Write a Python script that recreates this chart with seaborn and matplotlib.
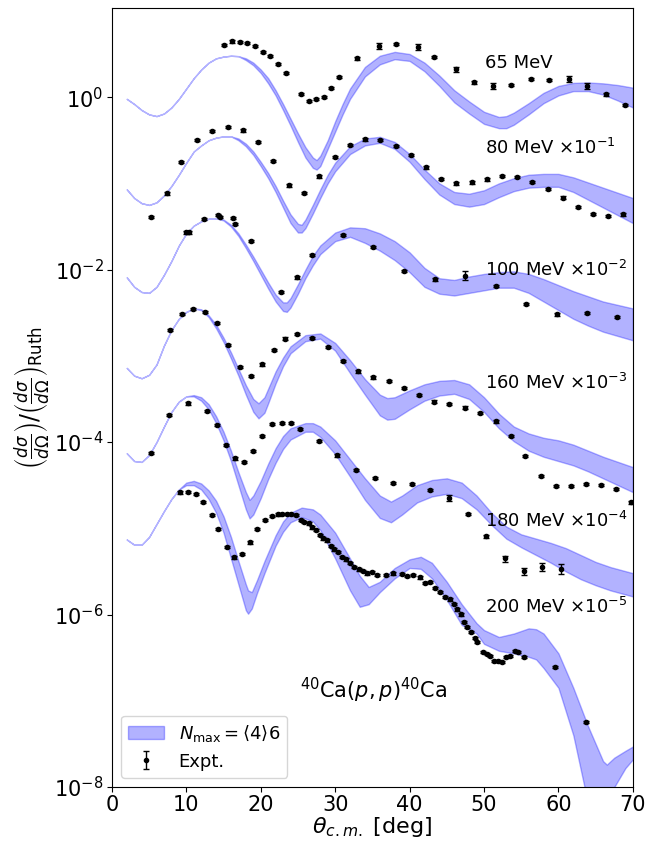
import numpy as np
import pandas as pd
import matplotlib
matplotlib.use("Agg")
import matplotlib.pyplot as plt
from matplotlib.ticker import NullLocator
import seaborn as sns

# theory bands, values given as log10 of the (scaled) ratio
th_65 = [2, 3, 4, 5, 6, 7, 8, 9, 10, 11, 12, 13, 14, 15, 16, 17, 18, 19, 20, 21, 22, 23, 24, 25, 26, 27, 27.5,
         28, 29, 30, 31, 32, 34, 36, 38, 40, 42, 44, 46, 48, 50, 52, 53, 54, 56, 58, 60, 62, 64, 66, 68, 70]
hi_65 = [-0.02, -0.08, -0.15, -0.20, -0.22, -0.19, -0.12, -0.02, 0.10, 0.22, 0.32, 0.40, 0.45, 0.47, 0.48,
         0.475, 0.45, 0.40, 0.32, 0.22, 0.08, -0.08, -0.25, -0.42, -0.58, -0.70, -0.73, -0.68, -0.50, -0.28,
         -0.08, 0.10, 0.35, 0.48, 0.525, 0.50, 0.40, 0.25, 0.08, -0.05, -0.17, -0.23, -0.22, -0.18, -0.07,
         0.05, 0.13, 0.165, 0.17, 0.16, 0.14, 0.11]
lo_65 = [-0.02, -0.08, -0.15, -0.20, -0.22, -0.19, -0.12, -0.02, 0.10, 0.22, 0.32, 0.40, 0.45, 0.47, 0.48,
         0.475, 0.43, 0.37, 0.28, 0.16, 0.02, -0.15, -0.33, -0.52, -0.70, -0.82, -0.84, -0.80, -0.60, -0.40,
         -0.20, -0.02, 0.24, 0.38, 0.44, 0.42, 0.30, 0.13, -0.06, -0.19, -0.31, -0.36, -0.36, -0.32, -0.20,
         -0.07, 0.02, 0.07, 0.07, 0.03, -0.04, -0.12]

th_80 = [2, 3, 4, 5, 6, 7, 8, 9, 10, 11, 12, 13, 14, 15, 16, 17, 18, 19, 20, 21, 22, 23, 24, 25, 25.5,
         26, 27, 28, 29, 30, 32, 34, 36, 38, 40, 42, 44, 46, 48, 50, 52, 54, 56, 58, 60, 62, 64, 66, 68, 70]
hi_80 = [-1.07, -1.17, -1.23, -1.25, -1.22, -1.14, -1.03, -0.90, -0.76, -0.63, -0.56, -0.50, -0.47, -0.455,
         -0.455, -0.48, -0.54, -0.63, -0.75, -0.88, -1.03, -1.20, -1.36, -1.47, -1.48, -1.42, -1.25, -1.07,
         -0.90, -0.76, -0.57, -0.48, -0.46, -0.52, -0.66, -0.84, -1.00, -1.10, -1.12, -1.08, -1.00, -0.94,
         -0.90, -0.89, -0.89, -0.93, -0.99, -1.05, -1.11, -1.17]
lo_80 = [-1.07, -1.17, -1.23, -1.25, -1.22, -1.14, -1.03, -0.90, -0.76, -0.63, -0.56, -0.50, -0.47, -0.455,
         -0.455, -0.50, -0.57, -0.67, -0.80, -0.94, -1.10, -1.28, -1.46, -1.57, -1.57, -1.52, -1.35, -1.17,
         -1.00, -0.86, -0.66, -0.56, -0.53, -0.60, -0.75, -0.95, -1.13, -1.24, -1.27, -1.24, -1.16, -1.09,
         -1.05, -1.04, -1.04, -1.10, -1.19, -1.28, -1.37, -1.46]

th_100 = [2, 3, 4, 5, 6, 7, 8, 9, 10, 11, 12, 13, 14, 15, 16, 17, 18, 19, 20, 21, 22, 23, 23.5, 24, 25, 26,
          27, 28, 30, 32, 34, 36, 38, 40, 42, 44, 46, 48, 50, 52, 54, 56, 58, 60, 62, 64, 66, 68, 70]
hi_100 = [-2.09, -2.20, -2.26, -2.27, -2.20, -2.06, -1.90, -1.72, -1.58, -1.49, -1.44, -1.41, -1.405, -1.42,
          -1.48, -1.58, -1.71, -1.85, -2.00, -2.15, -2.29, -2.38, -2.38, -2.33, -2.17, -2.00, -1.84, -1.72,
          -1.57, -1.51, -1.52, -1.58, -1.67, -1.80, -1.98, -2.10, -2.12, -2.08, -2.05, -2.03, -2.02, -2.05,
          -2.11, -2.18, -2.25, -2.31, -2.37, -2.41, -2.45]
lo_100 = [-2.09, -2.20, -2.26, -2.27, -2.20, -2.06, -1.90, -1.72, -1.58, -1.49, -1.44, -1.41, -1.405, -1.43,
          -1.50, -1.61, -1.75, -1.90, -2.06, -2.22, -2.37, -2.48, -2.49, -2.44, -2.28, -2.10, -1.95, -1.82,
          -1.67, -1.62, -1.69, -1.78, -1.89, -2.03, -2.20, -2.28, -2.30, -2.27, -2.24, -2.21, -2.21, -2.27,
          -2.37, -2.47, -2.57, -2.65, -2.72, -2.77, -2.82]

th_160 = [2, 3, 4, 5, 6, 7, 8, 9, 10, 11, 12, 13, 14, 15, 16, 17, 18, 19, 19.7, 20.5, 21, 22, 23, 24, 26, 28,
          30, 32, 34, 36, 37, 38, 40, 42, 44, 46, 48, 50, 52, 54, 56, 58, 60, 62, 64, 66, 68, 70]
hi_160 = [-3.14, -3.23, -3.26, -3.22, -3.10, -2.88, -2.70, -2.57, -2.49, -2.45, -2.46, -2.53, -2.64, -2.79,
          -2.96, -3.15, -3.34, -3.50, -3.55, -3.48, -3.38, -3.18, -3.02, -2.89, -2.76, -2.74, -2.85, -3.05,
          -3.27, -3.45, -3.49, -3.48, -3.40, -3.33, -3.29, -3.28, -3.33, -3.48, -3.67, -3.82, -3.90, -3.95,
          -3.98, -4.03, -4.10, -4.17, -4.23, -4.29]
lo_160 = [-3.14, -3.23, -3.26, -3.22, -3.10, -2.88, -2.70, -2.57, -2.49, -2.45, -2.47, -2.55, -2.68, -2.84,
          -3.03, -3.23, -3.45, -3.65, -3.725, -3.66, -3.55, -3.32, -3.12, -2.97, -2.83, -2.80, -2.94, -3.20,
          -3.45, -3.69, -3.74, -3.73, -3.62, -3.52, -3.46, -3.44, -3.50, -3.65, -3.84, -3.99, -4.10, -4.17,
          -4.22, -4.27, -4.34, -4.42, -4.50, -4.58]

th_180 = [2, 3, 4, 5, 6, 7, 8, 9, 10, 11, 12, 13, 14, 15, 16, 17, 18, 18.5, 19, 20, 21, 22, 23, 24, 26, 27,
          28, 30, 32, 34, 36, 37.5, 39, 41, 43, 45, 47, 49, 51, 53, 55, 57, 59, 61, 63, 65, 67, 70]
hi_180 = [-4.13, -4.22, -4.23, -4.15, -4.00, -3.82, -3.65, -3.53, -3.47, -3.455, -3.48, -3.56, -3.70, -3.88,
          -4.10, -4.35, -4.58, -4.67, -4.62, -4.45, -4.25, -4.07, -3.93, -3.84, -3.78, -3.78, -3.82, -3.98,
          -4.20, -4.42, -4.62, -4.69, -4.62, -4.50, -4.44, -4.42, -4.47, -4.62, -4.82, -4.98, -5.07, -5.12,
          -5.17, -5.23, -5.31, -5.39, -5.45, -5.52]
lo_180 = [-4.13, -4.22, -4.23, -4.15, -4.00, -3.82, -3.65, -3.53, -3.47, -3.47, -3.52, -3.62, -3.78, -3.98,
          -4.22, -4.50, -4.78, -4.885, -4.84, -4.65, -4.43, -4.24, -4.08, -3.97, -3.88, -3.88, -3.94, -4.14,
          -4.40, -4.67, -4.88, -4.93, -4.84, -4.70, -4.63, -4.60, -4.65, -4.78, -4.96, -5.12, -5.22, -5.31,
          -5.40, -5.50, -5.59, -5.66, -5.72, -5.79]

th_200 = [2, 3, 4, 5, 6, 7, 8, 9, 10, 11, 12, 13, 14, 15, 16, 17, 18, 18.3, 18.8, 19.5, 20.5, 22, 23, 24,
          25.5, 27, 28, 30, 32, 33.3, 34.5, 36, 38, 40, 41.5, 43, 45, 47, 49, 50, 52, 54, 56, 57, 58, 60, 62,
          64, 66, 66.5, 67.5, 69, 70]
hi_200 = [-5.13, -5.19, -5.19, -5.10, -4.95, -4.80, -4.66, -4.55, -4.47, -4.45, -4.48, -4.56, -4.68, -4.86,
          -5.10, -5.38, -5.65, -5.72, -5.74, -5.60, -5.38, -5.08, -4.92, -4.82, -4.76, -4.78, -4.84, -5.05,
          -5.35, -5.55, -5.68, -5.62, -5.46, -5.36, -5.33, -5.40, -5.62, -5.88, -6.10, -6.18, -6.26, -6.22,
          -6.16, -6.17, -6.22, -6.45, -6.85, -7.30, -7.70, -7.74, -7.66, -7.58, -7.53]
lo_200 = [-5.13, -5.19, -5.19, -5.10, -4.95, -4.80, -4.66, -4.55, -4.50, -4.50, -4.55, -4.66, -4.82, -5.05,
          -5.35, -5.65, -5.95, -5.99, -5.93, -5.75, -5.52, -5.20, -5.04, -4.93, -4.87, -4.92, -5.02, -5.35,
          -5.72, -5.91, -5.88, -5.74, -5.58, -5.46, -5.47, -5.58, -5.83, -6.12, -6.22, -6.34, -6.42, -6.45,
          -6.49, -6.52, -6.62, -6.85, -7.40, -8.20, -8.40, -8.30, -8.00, -7.78, -7.68]

# experimental points (log10 of scaled ratio)
x_65 = [15.09, 16.17, 17.15, 18.14, 19.21, 20.24, 21.27, 22.35, 23.33, 25.35, 26.42, 27.45, 28.48, 29.47,
        30.5, 33.0, 35.9, 38.16, 41.07, 43.26, 46.17, 48.68, 51.23, 53.65, 56.33, 58.67, 61.4, 63.9, 66.41, 69.0]
y_65 = [0.603, 0.646, 0.638, 0.630, 0.595, 0.525, 0.475, 0.386, 0.278, 0.038, -0.046, -0.023, 0.0, 0.108,
        0.232, 0.449, 0.59, 0.618, 0.580, 0.464, 0.321, 0.170, 0.131, 0.143, 0.209, 0.197, 0.212, 0.128,
        0.031, -0.089]

x_80 = [5.2, 7.35, 9.31, 11.42, 13.48, 15.54, 17.56, 19.66, 21.67, 23.74, 25.8, 27.85, 29.92, 31.93, 33.99,
        36.05, 38.16, 40.13, 42.19, 44.2, 46.3, 48.37, 50.38, 52.44, 54.41, 56.47, 58.54, 60.55, 62.61, 64.58,
        66.6, 68.7]
y_80 = [-1.388, -1.117, -0.754, -0.499, -0.390, -0.344, -0.386, -0.518, -0.742, -1.024, -1.109, -0.92,
        -0.692, -0.553, -0.49, -0.499, -0.564, -0.672, -0.815, -0.951, -1.0, -0.989, -0.954, -0.916, -0.924,
        -0.982, -1.067, -1.165, -1.272, -1.357, -1.38, -1.36]

x_100 = [9.9, 10.3, 12.4, 14.3, 14.5, 16.3, 16.6, 18.7, 22.75, 24.9, 26.9, 31.0, 35.1, 39.3, 43.4, 47.5,
         51.55, 55.6, 59.75, 63.8, 67.85]
y_100 = [-1.569, -1.569, -1.41, -1.368, -1.388, -1.403, -1.472, -1.67, -2.26, -2.09, -1.83, -1.6, -1.74,
         -2.017, -2.114, -2.07, -2.19, -2.40, -2.52, -2.50, -2.55]

x_160 = [7.79, 9.36, 10.9, 12.5, 14.07, 15.6, 17.2, 18.7, 20.2, 21.8, 23.3, 24.9, 26.9, 29.0, 31.0, 33.1,
         35.1, 37.2, 39.3, 41.3, 43.3, 45.3, 47.5, 49.5, 51.55, 53.6, 55.5, 57.6, 59.65, 61.7, 63.7, 65.7,
         67.8, 69.7]
y_160 = [-2.70, -2.516, -2.46, -2.49, -2.62, -2.87, -3.13, -3.23, -3.10, -2.93, -2.80, -2.75, -2.79, -2.90,
         -3.06, -3.18, -3.25, -3.29, -3.37, -3.45, -3.53, -3.56, -3.60, -3.66, -3.76, -3.93, -4.16, -4.39,
         -4.51, -4.51, -4.49, -4.50, -4.54, -4.70]

x_180 = [5.2, 7.7, 10.25, 12.76, 14.07, 15.3, 16.5, 17.7, 19.0, 20.2, 21.5, 22.8, 24.05, 25.3, 27.8, 30.3,
         32.8, 35.3, 37.8, 40.35, 42.8, 45.3, 47.8, 50.3, 52.8, 55.35, 57.8, 60.3]
y_180 = [-4.124, -3.687, -3.551, -3.64, -3.80, -4.03, -4.19, -4.23, -4.10, -3.93, -3.79, -3.776, -3.776,
         -3.846, -3.985, -4.154, -4.325, -4.417, -4.47, -4.487, -4.557, -4.646, -4.835, -5.094, -5.349,
         -5.496, -5.446, -5.47]

x_200 = [9.14, 10.25, 11.33, 12.27, 13.39, 14.28, 15.41, 16.43, 17.51, 18.54, 19.53, 20.56, 21.54, 22.35,
         22.88, 23.47, 24.05, 24.72, 25.35, 25.88, 26.42, 26.83, 27.37, 27.9, 28.39, 28.93, 29.38, 29.87,
         30.36, 30.95, 31.44, 31.98, 32.55, 33.19, 33.77, 34.3, 34.9, 35.56, 36.77, 37.8, 38.92, 39.6, 40.48,
         41.38, 42.05, 42.72, 43.4, 44.07, 44.74, 45.41, 45.95, 46.4, 46.85, 47.29, 47.74, 48.19, 48.77,
         49.08, 49.8, 50.34, 50.79, 51.32, 51.9, 52.35, 52.94, 53.47, 54.15, 54.59, 55.4, 59.52, 63.64]
y_200 = [-4.583, -4.576, -4.603, -4.696, -4.846, -5.005, -5.214, -5.337, -5.299, -5.163, -5.009, -4.904,
         -4.858, -4.839, -4.831, -4.831, -4.831, -4.843, -4.904, -4.924, -4.943, -4.99, -5.02, -5.08, -5.117,
         -5.14, -5.206, -5.244, -5.275, -5.33, -5.36, -5.406, -5.446, -5.476, -5.496, -5.523, -5.51, -5.542,
         -5.542, -5.523, -5.53, -5.55, -5.542, -5.569, -5.638, -5.62, -5.696, -5.735, -5.794, -5.824, -5.878,
         -5.94, -5.998, -6.083, -6.141, -6.2, -6.276, -6.315, -6.431, -6.458, -6.481, -6.536, -6.536, -6.547,
         -6.49, -6.481, -6.423, -6.438, -6.49, -6.605, -7.243]

# points with a visibly larger error bar (angle -> relative error)
big_err = {65: {35.9: 0.08, 41.07: 0.08, 46.17: 0.07, 51.23: 0.08, 61.4: 0.08, 63.9: 0.08},
           100: {47.5: 0.12},
           180: {45.3: 0.08, 52.8: 0.08, 55.35: 0.1, 57.8: 0.1, 60.3: 0.13}}

labels = {65: "65 MeV", 80: r"80 MeV $\times10^{-1}$", 100: r"100 MeV $\times10^{-2}$",
          160: r"160 MeV $\times10^{-3}$", 180: r"180 MeV $\times10^{-4}$", 200: r"200 MeV $\times10^{-5}$"}
label_y = {65: 0.398, 80: -0.595, 100: -2.006, 160: -3.312, 180: -4.916, 200: -5.91}

bands = {65: (th_65, lo_65, hi_65), 80: (th_80, lo_80, hi_80), 100: (th_100, lo_100, hi_100),
         160: (th_160, lo_160, hi_160), 180: (th_180, lo_180, hi_180), 200: (th_200, lo_200, hi_200)}
expt = {65: (x_65, y_65), 80: (x_80, y_80), 100: (x_100, y_100),
        160: (x_160, y_160), 180: (x_180, y_180), 200: (x_200, y_200)}

rows = []
for e, (xs, ys) in expt.items():
    for x, y in zip(xs, ys):
        rel = big_err.get(e, {}).get(x, 0.03)
        rows.append((e, x, 10 ** y, rel * 10 ** y))
df = pd.DataFrame(rows, columns=["E", "theta", "xs", "err"])

fig, ax = plt.subplots(figsize=(6.62, 8.44), dpi=100)
fig.subplots_adjust(left=0.169, right=0.956, top=0.9905, bottom=0.0675)

for i, (e, (th, lo, hi)) in enumerate(bands.items()):
    ax.fill_between(th, 10 ** np.array(lo), 10 ** np.array(hi), color="blue", alpha=0.3,
                    label=r"$N_{\rm max}=\langle 4\rangle 6$" if i == 0 else None)

ax.errorbar(df["theta"], df["xs"], yerr=df["err"], fmt="o", ms=3, color="k", ecolor="k",
            elinewidth=1, capsize=2.5, capthick=1, label="Expt.", zorder=3)
sns.scatterplot(data=df, x="theta", y="xs", color="k", s=12, linewidth=0, ax=ax, legend=False, zorder=4)

for e, txt in labels.items():
    ax.text(50.1, 10 ** label_y[e], txt, fontsize=13, va="center", ha="left")
ax.text(35.1, 10 ** -6.875, r"$^{40}$Ca$(p,p)^{40}$Ca", fontsize=15, ha="center", va="center")

ax.set_yscale("log")
ax.set_xlim(0, 70)
ax.set_ylim(1e-8, 10.8)
ax.set_yticks([1e-8, 1e-6, 1e-4, 1e-2, 1])
ax.yaxis.set_minor_locator(NullLocator())
ax.tick_params(labelsize=15, pad=2.5)
ax.set_xlabel(r"$\theta_{c.m.}$ [deg]", fontsize=16, labelpad=0)
ax.set_ylabel(r"$\left(\frac{d\sigma}{d\Omega}\right)/\left(\frac{d\sigma}{d\Omega}\right)_{\rm Ruth}$",
              fontsize=17, labelpad=2)
ax.legend(loc="lower left", fontsize=13)

fig.savefig("out.png", dpi=100)
